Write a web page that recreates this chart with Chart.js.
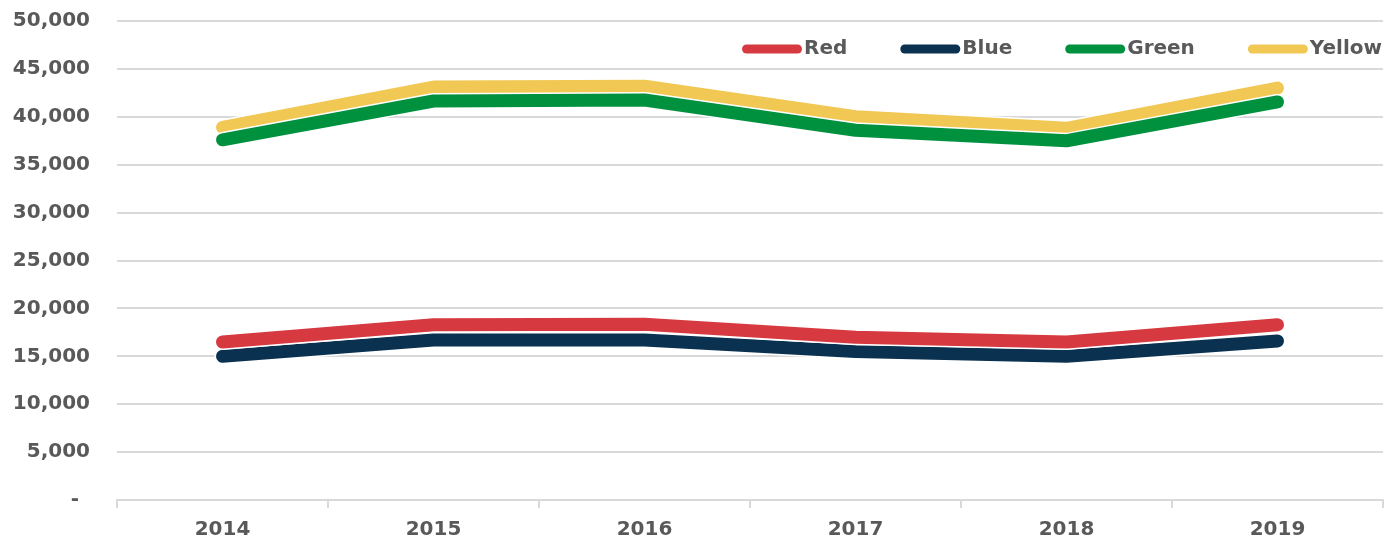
<!DOCTYPE html>
<html>
<head>
<meta charset="utf-8">
<script src="https://cdn.jsdelivr.net/npm/chart.js@4/dist/chart.umd.min.js"></script>
<style>
  html, body { margin: 0; padding: 0; background: #fff; }
  #wrap { width: 1389px; height: 540px; position: relative; }
</style>
</head>
<body>
<div id="wrap"><canvas id="chart"></canvas></div>
<script>
// ---- data ----
const years = ['2014', '2015', '2016', '2017', '2018', '2019'];
const red = [16500, 18300, 18350, 17000, 16500, 18300];
const blue = [15000, 16700, 16700, 15500, 15000, 16600];
const green = [37600, 41650, 41750, 38600, 37500, 41550];
const yellow = [38900, 43100, 43200, 40000, 38800, 43000];
const yTicks = [0, 5000, 10000, 15000, 20000, 25000, 30000, 35000, 40000, 45000, 50000];

const TEXT = '#595959';
const GRID = '#d9d9d9';
const FONT = { family: '"DejaVu Sans", sans-serif', size: 20, weight: 'bold' };

function series(label, data, color) {
    return {
        label, data,
        borderColor: color,
        backgroundColor: color,
        borderWidth: 13,
        borderCapStyle: 'round',
        borderJoinStyle: 'round',
        pointRadius: 0,
        tension: 0,
        fill: false
    };
}

// thin white halo under each line, like the source chart
const halo = {
    id: 'halo',
    beforeDatasetDraw(chart, args) {
        const pts = args.meta.data;
        if (!pts.length) return;
        const ctx = chart.ctx;
        ctx.save();
        ctx.strokeStyle = '#ffffff';
        ctx.lineWidth = 16;
        ctx.lineCap = 'round';
        ctx.lineJoin = 'round';
        ctx.beginPath();
        pts.forEach((p, i) => i ? ctx.lineTo(p.x, p.y) : ctx.moveTo(p.x, p.y));
        ctx.stroke();
        ctx.restore();
    }
};

// legend drawn inside the plot, top right, one row (Chart.js puts a
// chartArea legend in a column, so this one is done by hand)
const inlineLegend = {
    id: 'inlineLegend',
    afterDatasetsDraw(chart) {
        const ctx = chart.ctx;
        const area = chart.chartArea;
        const boxW = 60, boxH = 9, gap = 2, spacing = 53;
        const y = area.top + 28;
        ctx.save();
        ctx.font = `${FONT.weight} ${FONT.size}px ${FONT.family}`;
        ctx.textBaseline = 'middle';
        const items = chart.data.datasets.map(ds => ({
            text: ds.label, color: ds.borderColor, w: ctx.measureText(ds.label).width
        }));
        const total = items.reduce((s, it) => s + boxW + gap + it.w, 0) + spacing * (items.length - 1);
        let x = area.right - 1 - total;
        items.forEach(it => {
            ctx.fillStyle = it.color;
            ctx.beginPath();
            ctx.roundRect(x, y - boxH / 2, boxW, boxH, boxH / 2);
            ctx.fill();
            ctx.fillStyle = TEXT;
            ctx.fillText(it.text, x + boxW + gap, y);
            x += boxW + gap + it.w + spacing;
        });
        ctx.restore();
    }
};

new Chart(document.getElementById('chart'), {
    type: 'line',
    data: {
        labels: years,
        datasets: [
            series('Red', red, '#d63a40'),
            series('Blue', blue, '#0a3150'),
            series('Green', green, '#00913f'),
            series('Yellow', yellow, '#f0c853')
        ]
    },
    plugins: [halo, inlineLegend],
    options: {
        responsive: true,
        maintainAspectRatio: false,
        animation: false,
        layout: { padding: { top: 21, right: 6, left: 0, bottom: 0 } },
        scales: {
            x: {
                offset: true,
                grid: {
                    offset: true,
                    drawOnChartArea: false,
                    drawTicks: true,
                    tickLength: 8,
                    color: GRID,
                    lineWidth: 2
                },
                border: { display: true, color: GRID, width: 2 },
                ticks: { color: TEXT, font: FONT, padding: 10 },
                afterFit(scale) { scale.height = 40; }
            },
            y: {
                min: 0,
                max: 50000,
                afterBuildTicks(scale) { scale.ticks = yTicks.map(v => ({ value: v })); },
                grid: { color: GRID, lineWidth: 2, drawTicks: false },
                border: { display: false },
                ticks: {
                    color: TEXT,
                    font: FONT,
                    padding: 27,
                    callback: v => v === 0 ? '- \u2009' : v.toLocaleString('en-US')
                },
                afterFit(scale) {
                    scale.width = 117;
                    // label padding would otherwise push the plot top down
                    scale.paddingTop = 0;
                    scale.paddingBottom = 0;
                }
            }
        },
        plugins: {
            legend: { display: false },
            tooltip: { enabled: false }
        }
    }
});
</script>
</body>
</html>
